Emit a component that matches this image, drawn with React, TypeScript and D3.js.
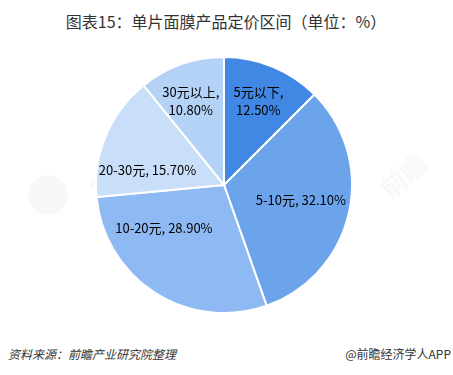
import React from "react";
import * as d3 from "d3";

const categories = ["5元以下", "5-10元", "10-20元", "20-30元", "30元以上"];
const values = [12.5, 32.1, 28.9, 15.7, 10.8];
const colors = ["#4187E4", "#6CA4EB", "#8EB9F2", "#C8DEF9", "#B4D1F6"];
const twoLine = [true, false, false, false, true];
// small layout nudges from the arc centroid (best-fit label placement)
const labelNudge = [[3, -8], [-3, -3], [-16, -26], [-1, 17], [-6, -7]];

const W = 453, H = 375;
const cx = 224, cy = 185, R = 128;

export default function App() {
  const pie = d3.pie<number>().sort(null).value((d) => d);
  const arcs = pie(values);
  const arc = d3.arc<d3.PieArcDatum<number>>().innerRadius(0).outerRadius(R);
  const labelArc = d3.arc<d3.PieArcDatum<number>>().innerRadius(R * 0.64).outerRadius(R * 0.64);
  const font = "'Microsoft YaHei', 'Noto Sans CJK SC', sans-serif";
  return (
    <svg width={W} height={H} style={{ position: "absolute", left: 0, top: 0, background: "#fff" }} fontFamily={font}>
      <text x={226} y={28} textAnchor="middle" fontSize={16} fill="#333">图表15：单片面膜产品定价区间（单位：%）</text>
      <g opacity={0.05} fill="#666">
        <circle cx={48} cy={195} r={20} />
        <text x={100} y={200} fontSize={26} transform="rotate(-40 100 200)" fontWeight="bold">前瞻</text>
        <text x={390} y={200} fontSize={26} transform="rotate(-40 390 200)" fontWeight="bold">前瞻</text>
        <text x={230} y={190} fontSize={24} transform="rotate(-40 230 190)" fontWeight="bold">产业研究院</text>
      </g>
      <g transform={`translate(${cx},${cy})`}>
        {arcs.map((a, i) => (
          <path key={i} d={arc(a) || ""} fill={colors[i]} stroke="#fff" strokeWidth={2} />
        ))}
        {arcs.map((a, i) => {
          const [x0, y0] = labelArc.centroid(a);
          const x = x0 + labelNudge[i][0];
          const y = y0 + labelNudge[i][1];
          const pct = values[i].toFixed(2) + "%";
          return twoLine[i] ? (
            <text key={i} x={x} y={y} textAnchor="middle" fontSize={13} fill="#000">
              <tspan x={x} dy={-4}>{categories[i]},</tspan>
              <tspan x={x} dy={18}>{pct}</tspan>
            </text>
          ) : (
            <text key={i} x={x} y={y + 5} textAnchor="middle" fontSize={13} fill="#000">
              {categories[i]}, {pct}
            </text>
          );
        })}
      </g>
      <text x={8} y={359} fontSize={12} fontStyle="italic" fill="#333">资料来源：前瞻产业研究院整理</text>
      <text x={451} y={359} fontSize={12} textAnchor="end" fill="#333">@前瞻经济学人APP</text>
    </svg>
  );
}
